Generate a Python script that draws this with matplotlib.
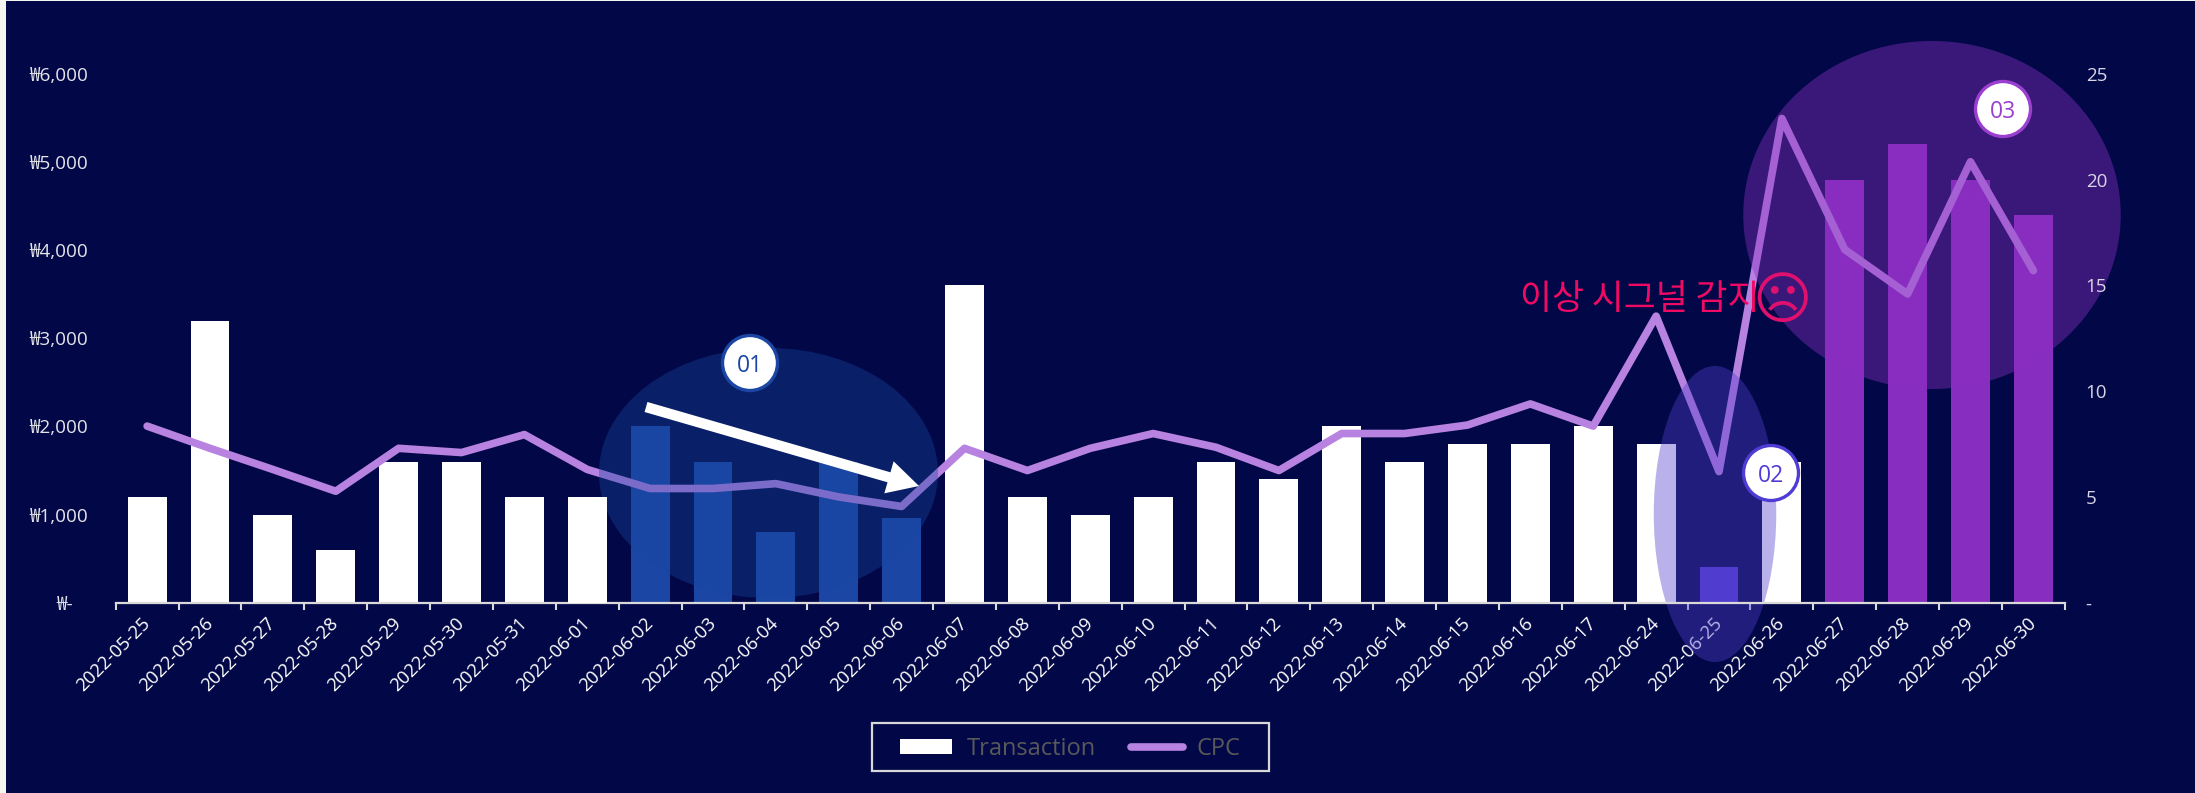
import numpy as np
import matplotlib
matplotlib.use("Agg")
import matplotlib.pyplot as plt
from matplotlib.patches import Ellipse, Rectangle, FancyArrowPatch

W, H = 2195, 793

dates = ["2022-05-25", "2022-05-26", "2022-05-27", "2022-05-28", "2022-05-29", "2022-05-30", "2022-05-31",
         "2022-06-01", "2022-06-02", "2022-06-03", "2022-06-04", "2022-06-05", "2022-06-06", "2022-06-07",
         "2022-06-08", "2022-06-09", "2022-06-10", "2022-06-11", "2022-06-12", "2022-06-13", "2022-06-14",
         "2022-06-15", "2022-06-16", "2022-06-17", "2022-06-24", "2022-06-25", "2022-06-26", "2022-06-27",
         "2022-06-28", "2022-06-29", "2022-06-30"]
transaction = [1200, 3200, 1000, 600, 1600, 1600, 1200, 1200, 2000, 1600, 800, 1600, 960, 3600, 1200, 1000,
               1200, 1600, 1400, 2000, 1600, 1800, 1800, 2000, 1800, 400, 1600, 4800, 5200, 4800, 4400]
cpc = [8.35, 7.3, 6.3, 5.27, 7.3, 7.1, 7.95, 6.3, 5.4, 5.4, 5.63, 5.0, 4.55, 7.3, 6.25, 7.3, 8.0, 7.35, 6.25,
       8.0, 8.0, 8.4, 9.4, 8.35, 13.55, 6.2, 22.9, 16.7, 14.6, 20.85, 15.7]
left_ticks = [0, 1000, 2000, 3000, 4000, 5000, 6000]
left_labels = ["₩-   ", "₩1,000", "₩2,000", "₩3,000", "₩4,000", "₩5,000", "₩6,000"]
right_ticks = [0, 5, 10, 15, 20, 25]
right_labels = ["-", "5", "10", "15", "20", "25"]

NAVY = "#020847"
BLUE = "#1b46a4"
INDIGO = "#4f3cd4"
VIOLET = "#872dbf"
LINE = "#b883e0"

# highlighted date ranges
bar_colors = ["white"] * len(dates)
for i in range(8, 13):
    bar_colors[i] = BLUE
bar_colors[25] = INDIGO
for i in range(27, 31):
    bar_colors[i] = VIOLET


def fx(x):
    return x / W


def fy(y):
    return 1 - y / H


plt.rcParams["font.family"] = ["Open Sans", "Noto Sans CJK KR", "DejaVu Sans"]

fig = plt.figure(figsize=(W / 100, H / 100), dpi=100, facecolor="#f6f6f0")
fig.add_artist(Rectangle((fx(6), 0), 1 - fx(6), fy(1), transform=fig.transFigure, fc=NAVY, ec="none", zorder=-5))

ax = fig.add_axes([fx(115.7), fy(602.7), fx(2064.8 - 115.7), fy(74) - fy(602.7)])
ax.patch.set_visible(False)
ax2 = ax.twinx()
ax2.patch.set_visible(False)

x = np.arange(len(dates))
bars = ax.bar(x, transaction, width=0.617, color=bar_colors, zorder=4, label="Transaction")

ax.set_xlim(-0.5, len(dates) - 0.5)
ax.set_ylim(0, 6000)
ax2.set_ylim(0, 25)

# line sits in the main axes so the highlight ellipses can cover it
line, = ax.plot(x, cpc, color=LINE, lw=5.5, transform=ax2.transData, solid_capstyle="round",
                solid_joinstyle="round", zorder=5, label="CPC")

ax.set_xticks(np.arange(len(dates) + 1) - 0.5, minor=False)
ax.set_xticklabels([])
ax.set_xticks(x, minor=True)
ax.set_xticklabels(dates, minor=True, rotation=45, ha="right", va="center", rotation_mode="anchor",
                   fontsize=13.2, color="white", fontweight="medium")
ax.tick_params(axis="x", which="major", length=5, width=1.5, color="#d9d9d9")
ax.tick_params(axis="x", which="minor", length=0, pad=13)

ax.set_yticks(left_ticks)
ax.set_yticklabels(left_labels, fontsize=13.6, color="#e4e4ea")
ax.tick_params(axis="y", length=0, pad=20)
ax2.set_yticks(right_ticks)
ax2.set_yticklabels(right_labels, fontsize=13.5, color="#d9d5e8")
ax2.tick_params(axis="y", length=0, pad=15)

for a in (ax, ax2):
    for side in ("top", "left", "right", "bottom"):
        a.spines[side].set_visible(False)
ax.spines["bottom"].set_visible(True)
ax.spines["bottom"].set_color("#d9d9d9")
ax.spines["bottom"].set_linewidth(1.6)
ax.spines["bottom"].set_zorder(6)


def highlight(cx, cy, w, h, color, alpha, zorder=6):
    ax.add_patch(Ellipse((fx(cx), fy(cy)), w / W, h / H, transform=fig.transFigure, fc=color, ec="none",
                         alpha=alpha, clip_on=False, zorder=zorder))


highlight(768.5, 473, 339, 250, "#1748a3", 0.38)
highlight(1715, 514, 122.5, 296, "#523fcc", 0.40)
highlight(1932, 215, 377.5, 348, "#8a2fc2", 0.41)

# bar next to the first ellipse stays on top of it
ax.patches[7].set_zorder(7)


def badge(cx, cy, text, color):
    ax.add_patch(Ellipse((fx(cx), fy(cy)), 55 / W, 55 / H, transform=fig.transFigure, fc="white", ec=color,
                         lw=2.4, clip_on=False, zorder=9))
    fig.text(fx(cx), fy(cy), text, color=color, fontsize=16.5, ha="center", va="center_baseline", zorder=10)


badge(750, 363, "01", BLUE)
badge(1771, 473, "02", INDIGO)
badge(2003, 109, "03", "#9a3fd0")

ax.add_patch(FancyArrowPatch((fx(646), fy(407)), (fx(919), fy(486)), transform=fig.transFigure,
                             arrowstyle="simple,head_length=3.0,head_width=3.2,tail_width=1.0",
                             mutation_scale=7.5, fc="white", ec="white", lw=0, clip_on=False, zorder=8,
                             shrinkA=0, shrinkB=0))

fig.text(fx(1520), fy(300), "이상 시그널 감지", color="#f00a64", fontsize=25, ha="left", va="center",
         family=["Noto Sans CJK KR", "DejaVu Sans"], fontweight="light", zorder=8)
fig.text(fx(1782), fy(302), "\u2639", color="#e0106f", fontsize=41, ha="center", va="center",
         family="DejaVu Sans", zorder=8)

# legend frame is a separate box so the padding can differ per side
fig.add_artist(Rectangle((fx(872), fy(771)), (1269 - 872) / W, 48 / H, transform=fig.transFigure, fc="none",
                         ec="#d8d8d8", lw=1.6))
leg = ax.legend(handles=[bars, line], loc="center", bbox_to_anchor=(fx(1070.5), fy(749)),
                bbox_transform=fig.transFigure, ncol=2, frameon=False, fontsize=17, labelcolor="#595959",
                handlelength=2.2, handleheight=0.63, columnspacing=1.48, handletextpad=0.6, borderpad=0)
leg.set_zorder(12)

fig.savefig("out.png", dpi=100, facecolor=fig.get_facecolor())
